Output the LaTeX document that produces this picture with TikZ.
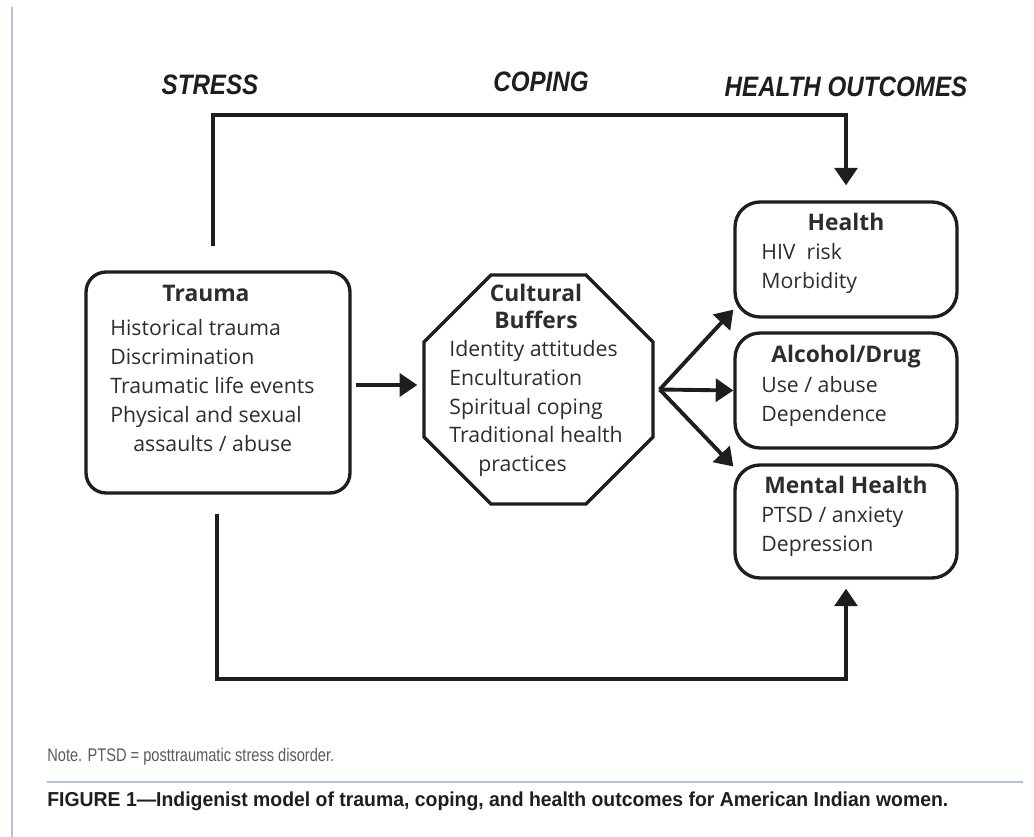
\documentclass[tikz,border=0pt]{standalone}
\usepackage{fontspec}
\setmainfont{Open Sans}
\newfontfamily\headfont[FakeStretch=0.86]{Liberation Sans}
\newfontfamily\notefont[FakeStretch=0.8]{Liberation Sans}
\newfontfamily\capfont[FakeStretch=0.96]{Liberation Sans}
\usetikzlibrary{arrows.meta,shapes.geometric}
\definecolor{ink}{RGB}{30,30,30}
\definecolor{txt}{RGB}{45,45,45}
\definecolor{rulecol}{RGB}{178,194,218}
\definecolor{notecol}{RGB}{90,90,90}

\begin{document}
\begin{tikzpicture}[
  x=0.02cm, y=-0.02cm,
  box/.style={draw=ink, line width=1.9pt, rounded corners=0.5cm,
              minimum width=4.44cm, minimum height=2.3cm, inner sep=0pt},
  hd/.style={font=\fontsize{13}{15.3}\selectfont\bfseries, text=txt,
             inner sep=0pt, align=center},
  items/.style={font=\fontsize{12.1}{16.4}\selectfont, text=txt,
                inner sep=0pt, align=left, anchor=west},
  stage/.style={font=\headfont\fontsize{16}{18}\selectfont\bfseries\itshape,
                text=ink, inner sep=0pt},
  ar/.style={-{Triangle[length=10pt,width=13pt]}, ink, line width=2.2pt},
]

\useasboundingbox (0,0) rectangle (1034,837);

% ---- stage headings ----
\node[stage] (stress) at (210,85) {STRESS};
\node[stage] (coping) at (541,82) {COPING};
\node[stage] (outc)   at (846,87) {HEALTH OUTCOMES};

% ---- stress ----
\node[box, minimum width=5.28cm, minimum height=4.42cm, rounded corners=0.4cm]
      (trauma) at (218,382.5) {};
\node[hd] (traumaT) at (206,293) {Trauma};
\node[items] (traumaL) at (110,385.5)
      {Historical trauma\\Discrimination\\Traumatic life events\\
       Physical and sexual\\\hspace*{0.46cm}assaults / abuse};

% ---- coping ----
\node[regular polygon, regular polygon sides=8, draw=ink, line width=1.9pt,
      minimum size=4.96cm, inner sep=0pt] (buf) at (538.5,389.5) {};
\node[hd] (bufT) at (536,306.5) {Cultural\\Buffers};
\node[items] (bufL) at (449,408.5)
      {Identity attitudes\\Enculturation\\Spiritual coping\\
       Traditional health\\\hspace*{0.58cm}practices};

% ---- health outcomes ----
\node[box] (health) at (846,259.5) {};
\node[hd] (healthT) at (846,222) {Health};
\node[items] (healthL) at (761,268.5) {HIV~~risk\\Morbidity};

\node[box] (alc) at (846,390.5) {};
\node[hd] (alcT) at (846,357) {Alcohol/Drug};
\node[items] (alcL) at (761,401.5) {Use / abuse\\Dependence};

\node[box, minimum height=2.26cm] (mental) at (846,521.5) {};
\node[hd] (mentalT) at (846,485) {Mental Health};
\node[items] (mentalL) at (761,531.5) {PTSD / anxiety\\Depression};

% ---- paths ----
\coordinate (tin) at ([yshift=-0.05cm]trauma.east);
\draw[ar, shorten <=0.08cm, shorten >=0.1cm] (tin) -- (tin -| buf.west);
\coordinate (fan) at ([xshift=0.1cm]buf.east);
\foreach \t in {health.204, alc.west, mental.154}{\draw[ar] (fan) -- (\t);}

\draw[ar, shorten <=0.48cm, shorten >=0.3cm]
      ([xshift=-0.1cm]trauma.north) -- ++(0,-155) -| (health.north);
\draw[ar, shorten <=0.38cm, shorten >=0.18cm]
      ([xshift=-0.02cm]trauma.south) -- ++(0,184) -| (mental.south);

% ---- page furniture ----
\draw[rulecol, line width=1.5pt] (12,7) -- (12,837);
\node[anchor=west, font=\notefont\fontsize{10.4}{12}\selectfont, text=notecol,
      inner sep=0pt] (note) at (47,757) {Note. PTSD = posttraumatic stress disorder.};
\draw[rulecol, line width=1.6pt] (47,782) -- (1023,782);
\node[anchor=west, font=\capfont\fontsize{11.5}{13}\selectfont\bfseries, text=ink,
      inner sep=0pt] (caption) at (47,801)
      {FIGURE 1—Indigenist model of trauma, coping, and health outcomes for American Indian women.};

\end{tikzpicture}
\end{document}
